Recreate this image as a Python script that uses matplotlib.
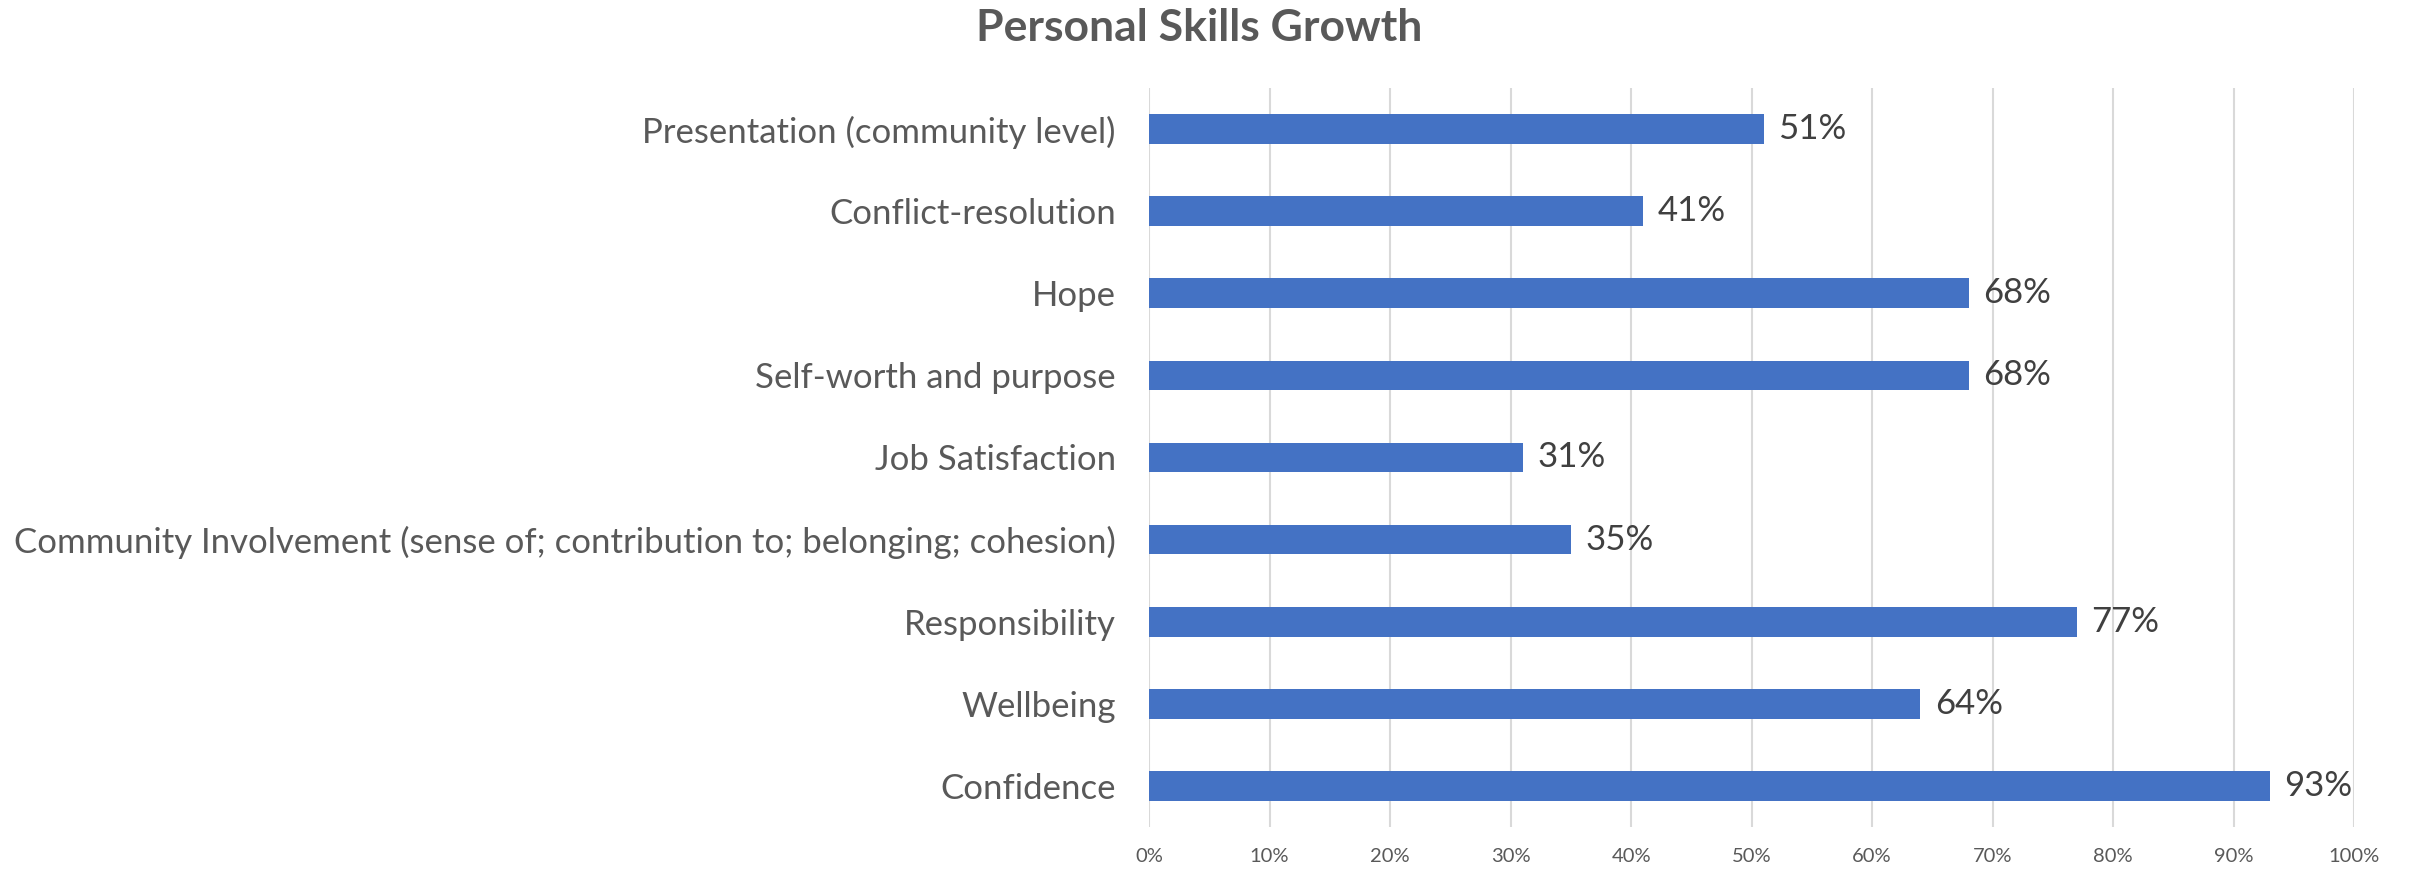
import matplotlib.pyplot as plt

# data, listed top to bottom as in the chart
skills = [
    "Presentation (community level)",
    "Conflict-resolution",
    "Hope",
    "Self-worth and purpose",
    "Job Satisfaction",
    "Community Involvement (sense of; contribution to; belonging; cohesion)",
    "Responsibility",
    "Wellbeing",
    "Confidence",
]
pct = [51, 41, 68, 68, 31, 35, 77, 64, 93]
ticks = [0, 10, 20, 30, 40, 50, 60, 70, 80, 90, 100]

plt.rcParams['font.family'] = ['Lato', 'DejaVu Sans']

fig = plt.figure(figsize=(24.12, 8.71), dpi=100)
ax = fig.add_axes([0.4764, 0.0505, 0.4996, 0.8485])

y = list(range(len(skills)))[::-1]
bars = ax.barh(y, pct, height=0.36, color='#4472C4')

for b, v in zip(bars, pct):
    ax.text(v + 1.2, b.get_y() + b.get_height() / 2, f"{v}%", va='center', ha='left',
            fontsize=25, color='#404040')

ax.set_xlim(0, 100)
ax.set_ylim(-0.5, len(skills) - 0.5)
ax.set_xticks(ticks)
ax.set_xticklabels([f"{t}%" for t in ticks], fontsize=14.5, color='#595959')
ax.set_yticks(y)
ax.set_yticklabels(skills, fontsize=25, color='#595959')
ax.tick_params(axis='both', length=0)
ax.tick_params(axis='x', pad=15)
ax.tick_params(axis='y', pad=24)
ax.grid(axis='x', color='#D9D9D9', linewidth=1.5)
ax.set_axisbelow(True)
for s in ax.spines.values():
    s.set_visible(False)

fig.text(0.497, 0.968, "Personal Skills Growth", ha='center', va='center',
         fontsize=32, fontweight='bold', color='#595959')

fig.savefig('out.png', dpi=100)
